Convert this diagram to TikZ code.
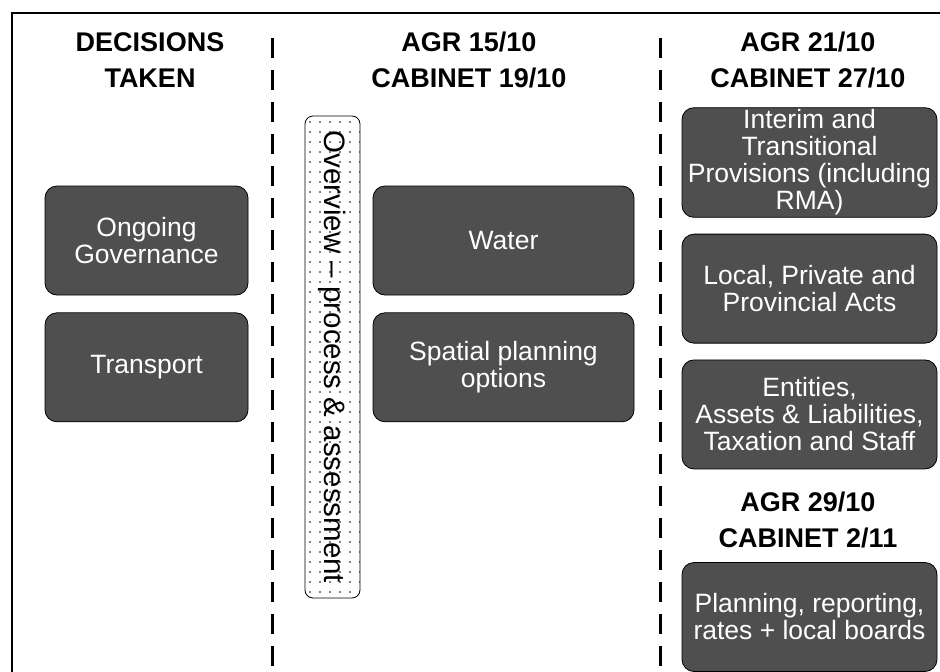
\documentclass[tikz,border=0pt]{standalone}
\usepackage{fontspec}
\setmainfont{Liberation Sans}
\usepackage{tikz}
\usetikzlibrary{positioning,patterns.meta}
\definecolor{boxgrey}{rgb}{0.31,0.31,0.31}

\begin{document}
\begin{tikzpicture}[
  x=1pt, y=-1pt,
  node distance=16pt,
  heading/.style={align=center, font=\fontsize{27}{36}\selectfont\bfseries},
  topic/.style={rectangle, rounded corners=12pt, draw=black, thick, fill=boxgrey, text=white,
                align=center, minimum height=109pt, inner sep=2pt, font=\fontsize{26.5}{27}\selectfont},
  overview/.style={rectangle, rounded corners=8pt, draw=black, thick,
                   pattern={Dots[distance=10pt,radius=0.9pt]},
                   minimum width=482pt, minimum height=55pt, rotate=-90, font=\fontsize{29.5}{32}\selectfont},
  divider/.style={line width=3pt, dash pattern=on 20pt off 12pt},
]
\useasboundingbox (0,0) rectangle (940,672);
% page frame and column dividers
\draw[line width=1.2pt] (12,672) -- (12,13) -- (940,13);
\draw[divider] (272,38) -- (272,672);
\draw[divider] (660,38) -- (660,672);

% column headings
\node[heading] (hdec) at (150,60) {DECISIONS\\TAKEN};
\node[heading] (hone) at (469,60) {AGR 15/10\\CABINET 19/10};
\node[heading] (htwo) at (808,60) {AGR 21/10\\CABINET 27/10};
\node[heading] (hthree) at (808,520) {AGR 29/10\\CABINET 2/11};

\node[overview] (over) at (332.5,357) {Overview -- process \& assessment};

\node[topic, minimum width=203pt] (gov) at (146.5,240.5) {Ongoing\\Governance};
\node[topic, minimum width=203pt, below=17pt of gov] (transport) {Transport};

\node[topic, minimum width=261pt] (water) at (503.5,240.5) {Water};
\node[topic, minimum width=261pt, below=17pt of water] (spatial) {Spatial planning\\options};

\node[topic, minimum width=255pt] (interim) at (809.5,162.5) {Interim and\\Transitional\\Provisions (including\\RMA)};
\node[topic, minimum width=255pt, below=of interim] (acts) {Local, Private and\\Provincial Acts};
\node[topic, minimum width=255pt, below=of acts] (entities) {Entities,\\Assets \& Liabilities,\\Taxation and Staff};
\node[topic, minimum width=255pt] (planning) at (809.5,617) {Planning, reporting,\\rates + local boards};
\end{tikzpicture}
\end{document}
